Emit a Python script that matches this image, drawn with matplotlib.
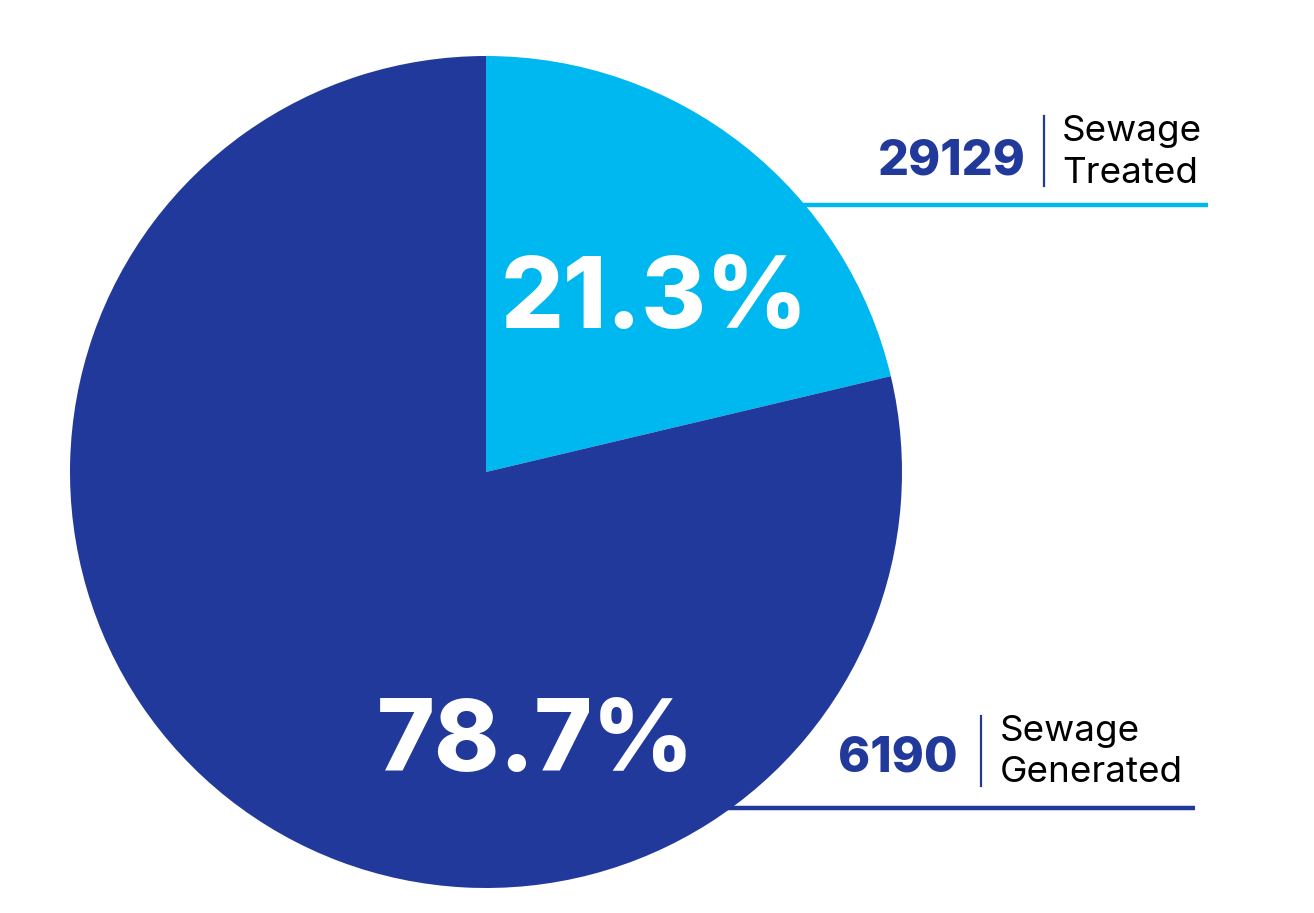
import matplotlib
matplotlib.use("Agg")
import matplotlib.pyplot as plt

# Data
categories = ["Sewage Treated", "Sewage Generated"]
shares = [21.3, 78.7]
pct_labels = ["21.3%", "78.7%"]
amounts = ["29129", "6190"]
label_lines = [["Sewage", "Treated"], ["Sewage", "Generated"]]

DARK = "#21399A"
LIGHT = "#00B8F0"
colors = [LIGHT, DARK]

W, H = 1314, 913
fig = plt.figure(figsize=(W / 100, H / 100), dpi=100)
ax = fig.add_axes([0, 0, 1, 1])
ax.set_xlim(0, W)
ax.set_ylim(0, H)
ax.set_aspect("equal")
ax.axis("off")

cx, cy, r = 486, H - 472, 416
wedges, _ = ax.pie(shares, colors=colors, startangle=90, counterclock=False,
                   center=(cx, cy), radius=r, frame=True,
                   wedgeprops=dict(linewidth=0, zorder=2))
ax.set_xlim(0, W)
ax.set_ylim(0, H)
ax.axis("off")

font = "Inter"

# Percent labels
ax.text(654, H - 302, pct_labels[0], color="white", fontsize=71, fontweight="heavy",
        family=font, ha="center", va="center", zorder=5)
ax.text(536, H - 745, pct_labels[1], color="white", fontsize=71, fontweight="heavy",
        family=font, ha="center", va="center", zorder=5)

# Callouts
callouts = [
    dict(line_y=205, x0=780, x1=1208, lc=LIGHT, num_x=1026, num_y=161, sep_x=1044,
         sep_y0=116, sep_y1=186, txt_x=1062, t1_y=131, t2_y=173),
    dict(line_y=808, x0=700, x1=1195, lc=DARK, num_x=958, num_y=758, sep_x=981,
         sep_y0=716, sep_y1=786, txt_x=1000, t1_y=731, t2_y=773),
]
for c, amt, lines in zip(callouts, amounts, label_lines):
    ax.plot([c["x0"], c["x1"]], [H - c["line_y"]] * 2, color=c["lc"], lw=3.2,
            solid_capstyle="butt", zorder=1)
    ax.text(c["num_x"], H - c["num_y"], amt, color=DARK, fontsize=35, fontweight="heavy",
            family=font, ha="right", va="center", zorder=5)
    ax.plot([c["sep_x"]] * 2, [H - c["sep_y0"], H - c["sep_y1"]], color=DARK, lw=1.6, zorder=5)
    ax.text(c["txt_x"], H - c["t1_y"], lines[0], color="black", fontsize=26.5,
            family=font, ha="left", va="center", zorder=5)
    ax.text(c["txt_x"], H - c["t2_y"], lines[1], color="black", fontsize=26.5,
            family=font, ha="left", va="center", zorder=5)

fig.savefig("out.png", dpi=100)
